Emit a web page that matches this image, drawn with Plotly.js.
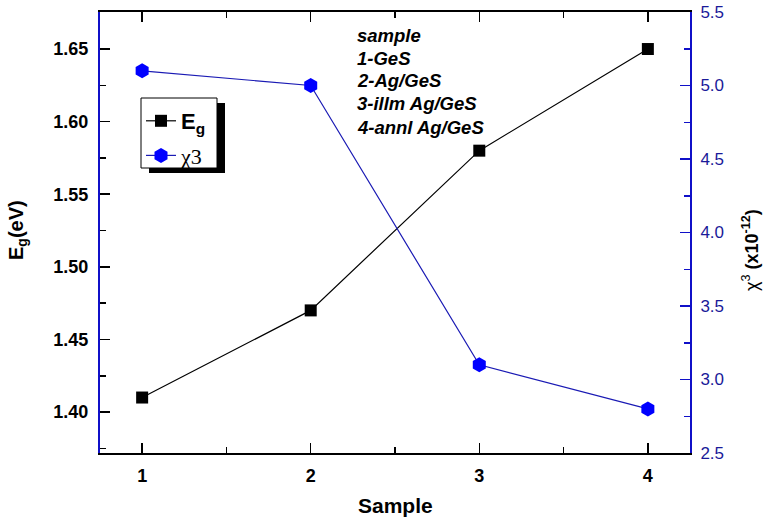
<!DOCTYPE html>
<html>
<head>
<meta charset="utf-8">
<script src="https://cdn.plot.ly/plotly-3.0.1.min.js"></script>
<style>html,body{margin:0;padding:0;background:#fff;}#chart{width:764px;height:520px;}</style>
</head>
<body>
<div id="chart"></div>
<script>
const samples = [1, 2, 3, 4];
const egValues = [1.41, 1.47, 1.58, 1.65];
const chi3Values = [5.1, 5.0, 3.1, 2.8];
const sampleNotes = ['sample', '1-GeS', '2-Ag/GeS', '3-illm Ag/GeS', '4-annl Ag/GeS'];

const W = 764, H = 520, L = 100, R = 74, T = 12, B = 67;
const pw = W - L - R, ph = H - T - B;
const px = v => (v - L) / pw;
const py = v => 1 - (v - T) / ph;

const blue = '#1010c8';
const font = 'Liberation Sans, Arial, sans-serif';

const traces = [
  {
    x: samples, y: egValues, yaxis: 'y', mode: 'lines+markers',
    name: '<b>E<sub>g</sub></b>', legendgroup: 'a',
    line: {color: 'black', width: 1.2},
    marker: {symbol: 'square', size: 12, color: 'black'}
  },
  {
    x: samples, y: chi3Values, yaxis: 'y2', mode: 'lines+markers',
    name: '<span style="font-family:Liberation Serif, serif;font-weight:normal">χ3</span>', legendgroup: 'b',
    line: {color: '#1a1ab4', width: 1.2},
    marker: {symbol: 'hexagon', size: 15, color: '#0000ff'}
  }
];

const annotations = sampleNotes.map((t, i) => ({
  text: '<b><i>' + t + '</i></b>', xref: 'paper', yref: 'paper',
  x: px(355), y: py(35 + i * 23), xanchor: 'left', yanchor: 'middle',
  showarrow: false, font: {family: font, size: 18.5, color: 'black'}
}));

annotations.push(
  {text: '<b>Sample</b>', xref: 'paper', yref: 'paper', x: px(395), y: py(505),
   xanchor: 'center', yanchor: 'middle', showarrow: false,
   font: {family: font, size: 21, color: 'black'}},
  {text: '<b>E<sub>g</sub>(eV)</b>', xref: 'paper', yref: 'paper', x: px(18), y: py(230),
   xanchor: 'center', yanchor: 'middle', showarrow: false, textangle: -90,
   font: {family: font, size: 20, color: 'black'}},
  {text: 'χ<sup>3</sup> <b>(x10<sup>-12</sup>)</b>', xref: 'paper', yref: 'paper', x: px(750), y: py(250),
   xanchor: 'center', yanchor: 'middle', showarrow: false, textangle: -90,
   font: {family: font, size: 18, color: 'black'}}
);

const layout = {
  width: W, height: H,
  margin: {l: L, r: R, t: T, b: B},
  paper_bgcolor: 'white', plot_bgcolor: 'white',
  showlegend: true,
  legend: {
    x: px(141), y: py(100), xanchor: 'left', yanchor: 'top',
    bgcolor: 'rgba(0,0,0,0)', borderwidth: 0,
    font: {family: font, size: 22, color: 'black'},
    tracegroupgap: 3, itemwidth: 30
  },
  xaxis: {
    range: [0.75, 4.25], tickmode: 'linear', tick0: 0, dtick: 1,
    ticks: 'inside', ticklen: 10, tickwidth: 1.5, tickcolor: 'black',
    showline: true, linecolor: 'black', linewidth: 2, mirror: 'ticks',
    showgrid: false, zeroline: false, ticklabelstandoff: 5,
    minor: {dtick: 0.5, ticks: 'inside', ticklen: 6, tickwidth: 1.5, tickcolor: 'black'},
    tickfont: {family: font, size: 18, color: 'black', weight: 'bold'}
  },
  yaxis: {
    range: [1.3718, 1.6755], tickmode: 'linear', tick0: 1.4, dtick: 0.05, tickformat: '.2f',
    ticks: 'inside', ticklen: 10, tickwidth: 1.5, tickcolor: 'black',
    showline: true, linecolor: blue, linewidth: 2, mirror: false,
    showgrid: false, zeroline: false, ticklabelstandoff: 6,
    minor: {dtick: 0.025, ticks: 'inside', ticklen: 6, tickwidth: 1.5, tickcolor: 'black'},
    tickfont: {family: font, size: 18, color: 'black', weight: 'bold'}
  },
  yaxis2: {
    overlaying: 'y', side: 'right',
    range: [2.5, 5.5], tickmode: 'linear', tick0: 2.5, dtick: 0.5, tickformat: '.1f',
    ticks: 'inside', ticklen: 10, tickwidth: 1.5, tickcolor: blue,
    showline: true, linecolor: blue, linewidth: 2,
    showgrid: false, zeroline: false, ticklabelstandoff: 5,
    minor: {dtick: 0.25, ticks: 'inside', ticklen: 6, tickwidth: 1.5, tickcolor: blue},
    tickfont: {family: font, size: 17, color: '#1a1a99'}
  },
  shapes: [
    {type: 'rect', xref: 'paper', yref: 'paper', layer: 'above',
     x0: px(149), x1: px(225), y0: py(103), y1: py(173),
     fillcolor: 'black', line: {width: 0}},
    {type: 'rect', xref: 'paper', yref: 'paper', layer: 'above',
     x0: px(141), x1: px(217), y0: py(98), y1: py(168),
     fillcolor: 'white', line: {color: 'black', width: 1}}
  ],
  annotations: annotations
};

Plotly.newPlot('chart', traces, layout, {displayModeBar: false, staticPlot: true});
</script>
</body>
</html>
